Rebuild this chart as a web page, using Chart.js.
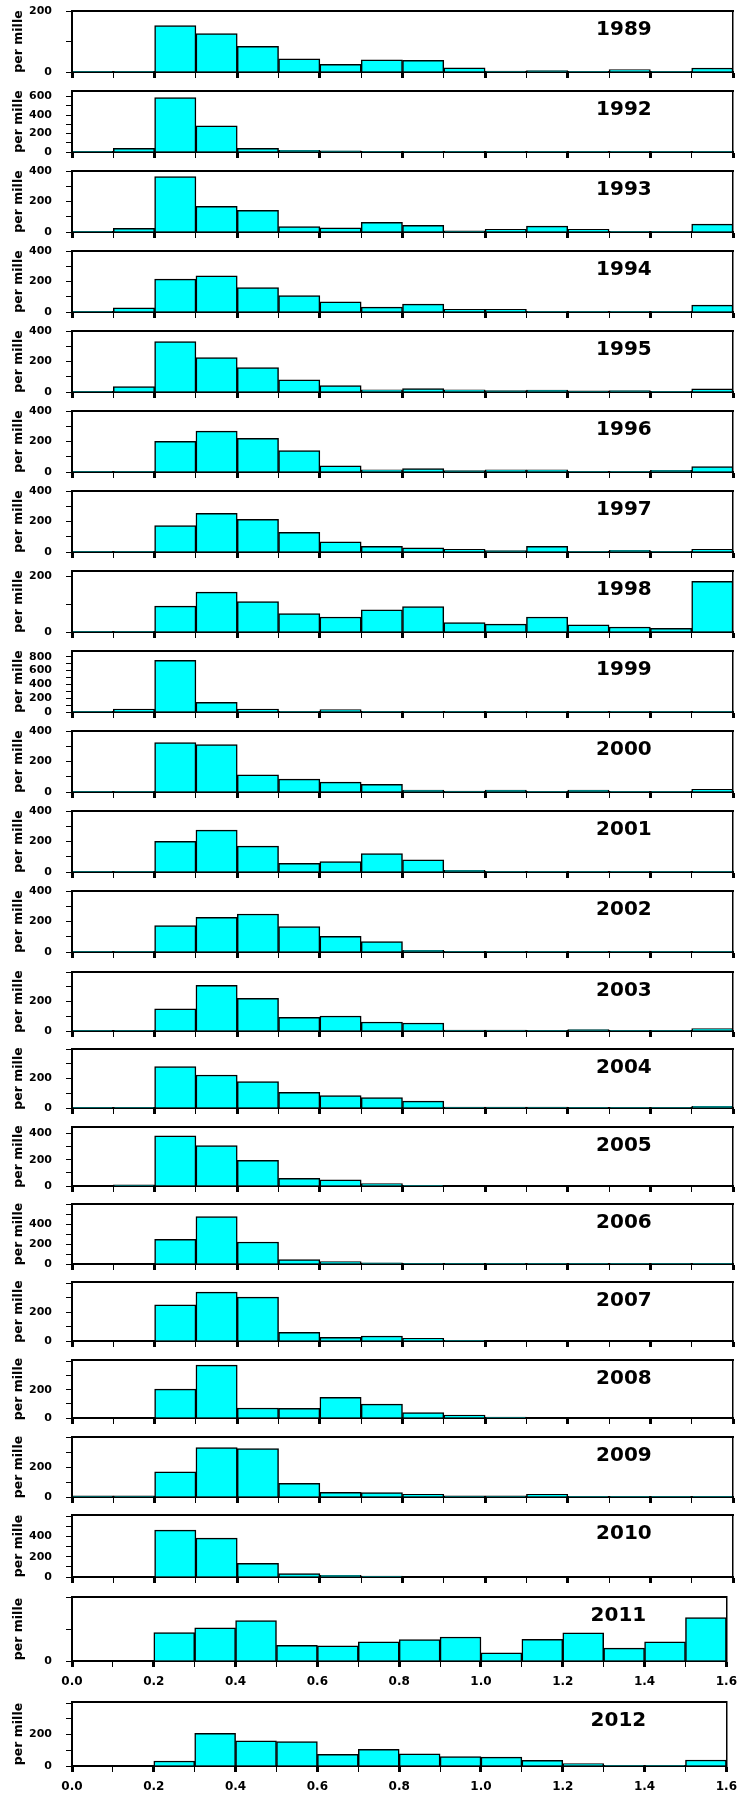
<!DOCTYPE html>
<html>
<head>
<meta charset="utf-8">
<script src="https://cdn.jsdelivr.net/npm/chart.js@4.4.0/dist/chart.umd.min.js"></script>
<style>
  html, body { margin: 0; padding: 0; background: #fff; }
  body { width: 745px; height: 1798px; position: relative; overflow: hidden; }
  .panel { position: absolute; left: 0; width: 745px; }
</style>
</head>
<body>
<script>
// histogram bins (width 0.1 from 0.0 to 1.6)
var bins = ['0.0', '0.1', '0.2', '0.3', '0.4', '0.5', '0.6', '0.7',
            '0.8', '0.9', '1.0', '1.1', '1.2', '1.3', '1.4', '1.5'];
var xTickLabels = ['0.0', '0.2', '0.4', '0.6', '0.8', '1.0', '1.2', '1.4', '1.6'];

var years = ['1989', '1992', '1993', '1994', '1995', '1996', '1997', '1998', '1999', '2000', '2001',
             '2002', '2003', '2004', '2005', '2006', '2007', '2008', '2009', '2010', '2011', '2012'];

// per mille in each bin
var v1989 = [2, 2, 152, 126, 84, 43, 25, 40, 38, 14, 3, 5, 2, 8, 2, 13];
var v1992 = [3, 40, 590, 284, 40, 18, 14, 3, 3, 7, 3, 3, 7, 2, 2, 2];
var v1993 = [4, 24, 363, 168, 142, 35, 28, 63, 44, 7, 17, 39, 17, 4, 4, 52];
var v1994 = [4, 28, 216, 238, 160, 108, 67, 32, 52, 17, 17, 4, 4, 4, 4, 45];
var v1995 = [2, 35, 330, 225, 160, 79, 42, 15, 22, 15, 9, 13, 7, 9, 4, 20];
var v1996 = [2, 4, 201, 268, 220, 141, 41, 15, 22, 9, 15, 15, 2, 2, 11, 35];
var v1997 = [2, 2, 173, 254, 214, 129, 66, 37, 28, 17, 9, 37, 4, 11, 2, 17];
var v1998 = [1, 1, 93, 143, 109, 66, 54, 80, 91, 34, 28, 54, 26, 18, 13, 182];
var v1999 = [3, 43, 747, 140, 43, 10, 34, 2, 2, 2, 2, 2, 2, 2, 2, 2];
var v2000 = [1, 1, 324, 311, 112, 84, 65, 50, 13, 6, 13, 2, 13, 2, 2, 17];
var v2001 = [1, 1, 201, 275, 170, 57, 68, 120, 79, 11, 2, 4, 1, 1, 1, 1];
var v2002 = [1, 1, 173, 227, 249, 166, 102, 69, 11, 4, 1, 1, 1, 1, 1, 1];
var v2003 = [1, 1, 151, 310, 221, 93, 102, 61, 54, 7, 7, 2, 9, 2, 2, 16];
var v2004 = [5, 5, 280, 224, 179, 106, 84, 70, 47, 7, 7, 7, 5, 5, 5, 11];
var v2005 = [0, 8, 382, 309, 196, 58, 48, 18, 3, 0, 0, 0, 0, 0, 0, 0];
var v2006 = [0, 0, 249, 477, 222, 44, 24, 13, 1, 1, 1, 1, 1, 1, 1, 1];
var v2007 = [0, 0, 251, 340, 305, 60, 26, 35, 19, 5, 0, 0, 0, 0, 0, 0];
var v2008 = [0, 0, 205, 376, 71, 68, 146, 99, 38, 21, 7, 0, 0, 0, 0, 0];
var v2009 = [7, 7, 167, 329, 322, 91, 31, 29, 18, 7, 7, 18, 5, 5, 5, 5];
var v2010 = [0, 0, 462, 384, 134, 33, 16, 10, 0, 0, 0, 0, 0, 0, 0, 0];
var v2011 = [0, 0, 90, 105, 128, 50, 48, 61, 68, 76, 26, 69, 89, 41, 61, 138];
var v2012 = [0, 0, 32, 209, 160, 155, 74, 106, 77, 60, 57, 36, 15, 2, 2, 38];

var series = [v1989, v1992, v1993, v1994, v1995, v1996, v1997, v1998, v1999, v2000, v2001,
              v2002, v2003, v2004, v2005, v2006, v2007, v2008, v2009, v2010, v2011, v2012];

// y axis top and the tick values that carry a label
var yMax = [200, 660, 400, 400, 400, 400, 400, 219, 882, 400, 400,
            400, 400, 400, 450, 605, 410, 412, 400, 612, 203, 408];
var yLabelled = [
  [0, 200], [0, 200, 400, 600], [0, 200, 400], [0, 200, 400], [0, 200, 400], [0, 200, 400],
  [0, 200, 400], [0, 200], [0, 200, 400, 600, 800], [0, 200, 400], [0, 200, 400],
  [0, 200, 400], [0, 200], [0, 200], [0, 200, 400], [0, 200, 400], [0, 200], [0, 200],
  [0, 200], [0, 200, 400], [0], [0, 200]
];

// page layout: top edge and zero line of every plot
var plotTop = [11, 91, 171, 251, 331, 411, 491, 571, 651, 731, 811,
               891, 972, 1049, 1127, 1204, 1282, 1360, 1437, 1515, 1597, 1702];
var plotZero = [72, 152, 232, 312, 392, 472, 552, 632, 712, 792, 872,
                952, 1031, 1108, 1186, 1264, 1341, 1418, 1497, 1577, 1661, 1766];

var PAD_TOP = 10;
var FONT = '"DejaVu Sans", Verdana, sans-serif';

var yearLabel = {
  id: 'yearLabel',
  afterDraw: function (chart) {
    var a = chart.chartArea, c = chart.ctx;
    c.save();
    c.font = 'bold 20px ' + FONT;
    c.fillStyle = '#000';
    c.textAlign = 'center';
    c.textBaseline = 'middle';
    c.fillText(chart.options.plugins.yearLabel.text, a.left + (a.right - a.left) * 0.835, a.top + 19);
    c.restore();
  }
};

years.forEach(function (year, i) {
  var withX = i >= 20;
  var bottomH = withX ? 30 : 7;
  var div = document.createElement('div');
  div.className = 'panel';
  div.style.top = (plotTop[i] - PAD_TOP) + 'px';
  div.style.height = (plotZero[i] - plotTop[i] + PAD_TOP + bottomH) + 'px';
  var canvas = document.createElement('canvas');
  div.appendChild(canvas);
  document.body.appendChild(div);

  new Chart(canvas.getContext('2d'), {
    type: 'bar',
    data: {
      labels: bins,
      datasets: [{
        data: series[i],
        xAxisID: 'x',
        yAxisID: 'y',
        backgroundColor: '#00ffff',
        borderColor: '#000',
        borderWidth: 1.5,
        borderSkipped: 'bottom',
        barPercentage: 1,
        categoryPercentage: 1
      }]
    },
    options: {
      responsive: true,
      maintainAspectRatio: false,
      animation: false,
      layout: { padding: { top: PAD_TOP, right: 12, left: 0, bottom: 0 } },
      plugins: {
        legend: { display: false },
        tooltip: { enabled: false },
        yearLabel: { text: year }
      },
      scales: {
        x: { type: 'category', display: false },
        xt: {
          type: 'linear',
          position: 'bottom',
          min: 0,
          max: 1.6,
          offset: false,
          ticks: {
            stepSize: 0.1,
            autoSkip: false,
            maxRotation: 0,
            padding: 8,
            color: '#000',
            font: { family: FONT, size: 12, weight: 'bold' },
            callback: function (v) {
              var s = v.toFixed(1);
              return withX && xTickLabels.indexOf(s) >= 0 ? s : '';
            }
          },
          grid: {
            offset: false,
            drawOnChartArea: false,
            tickLength: 6,
            tickColor: '#000',
            tickWidth: function (ctx) {
              var t = ctx.tick ? Math.round(ctx.tick.value * 10) : 0;
              return t % 2 === 0 ? 3 : 1;
            }
          },
          border: { color: '#000', width: 2 },
          afterFit: function (s) { s.height = bottomH; }
        },
        y: {
          min: 0,
          max: yMax[i],
          afterBuildTicks: function (s) {
            var t = [];
            for (var v = 0; v <= s.max; v += 100) t.push({ value: v });
            s.ticks = t;
          },
          ticks: {
            autoSkip: false,
            padding: 14,
            color: '#000',
            font: { family: FONT, size: 11, weight: 'bold' },
            callback: function (v) { return yLabelled[i].indexOf(v) >= 0 ? String(v) : ''; }
          },
          title: {
            display: true,
            text: 'per mille',
            color: '#000',
            font: { family: FONT, size: 12.5, weight: 'bold' },
            padding: { top: 11, bottom: 0 }
          },
          grid: { drawOnChartArea: false, tickLength: 6, tickColor: '#000', tickWidth: 1 },
          border: { color: '#000', width: 2 },
          afterFit: function (s) {
            s.width = 72;
            s.paddingTop = 0;
            s.paddingBottom = 0;
          }
        },
        top: {
          type: 'linear',
          position: 'top',
          offset: false,
          ticks: { display: false },
          grid: { drawOnChartArea: false, drawTicks: false },
          border: { color: '#000', width: 2 },
          afterFit: function (s) { s.height = 0; }
        },
        right: {
          type: 'linear',
          position: 'right',
          ticks: { display: false },
          grid: { drawOnChartArea: false, drawTicks: false },
          border: { color: '#000', width: 1.5 },
          afterFit: function (s) { s.width = 0; }
        }
      }
    },
    plugins: [yearLabel]
  });
});
</script>
</body>
</html>
